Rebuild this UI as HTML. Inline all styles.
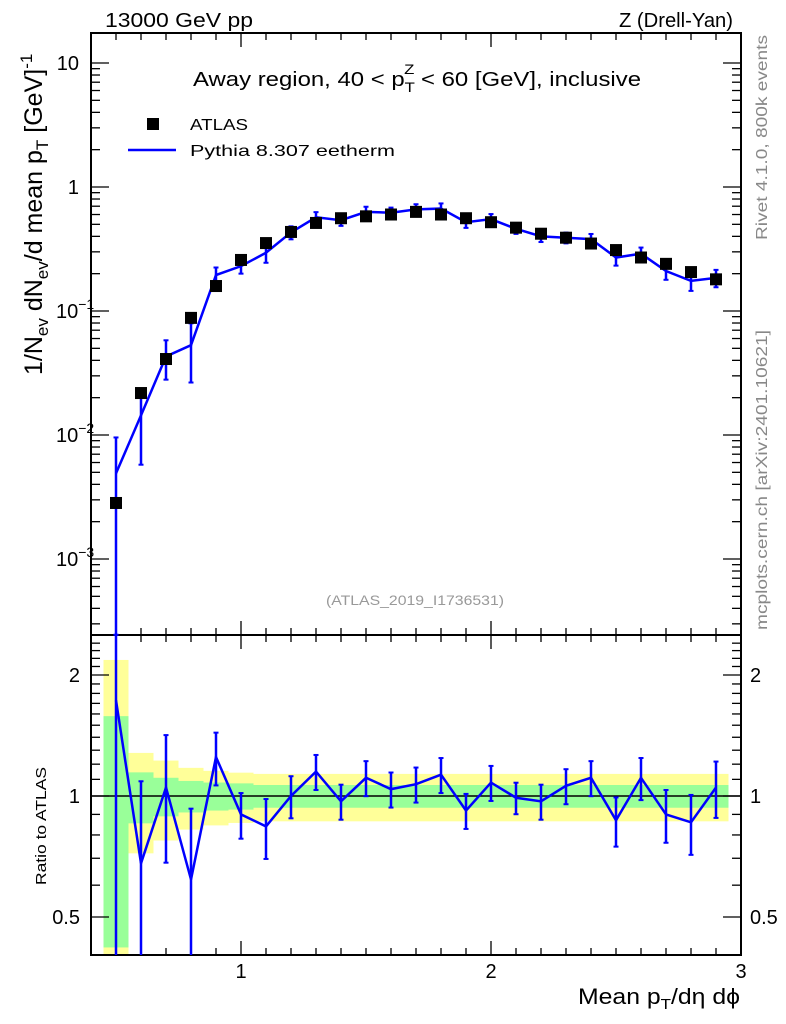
<!DOCTYPE html>
<html><head><meta charset="utf-8"><style>
body{margin:0;background:#fff}
svg{display:block;font-family:"Liberation Sans",sans-serif}
</style></head><body>
<svg id="c" width="786" height="1024" viewBox="0 0 786 1024">
<g id="bands"></g>
<g id="axes"></g>
<g id="marks"></g>
<text x="105" y="27" font-size="20" textLength="148" lengthAdjust="spacingAndGlyphs">13000 GeV pp</text>
<text x="619" y="27" font-size="20" textLength="114" lengthAdjust="spacingAndGlyphs">Z (Drell-Yan)</text>
<text x="193" y="86" font-size="20" textLength="448" lengthAdjust="spacingAndGlyphs">Away region, 40 &lt; p<tspan font-size="14" dy="6">T</tspan><tspan font-size="14" dx="-9" dy="-18">Z</tspan><tspan dy="12"> &lt; 60 [GeV], inclusive</tspan></text>
<rect x="147" y="118" width="12" height="12" fill="#000"/>
<text x="190" y="130" font-size="16" textLength="58" lengthAdjust="spacingAndGlyphs">ATLAS</text>
<line x1="128" y1="150" x2="176" y2="150" stroke="#0000ff" stroke-width="2.5"/>
<text x="190" y="156" font-size="16" textLength="205" lengthAdjust="spacingAndGlyphs">Pythia 8.307 eetherm</text>
<text x="326" y="605" font-size="14" fill="#999" textLength="178" lengthAdjust="spacingAndGlyphs">(ATLAS_2019_I1736531)</text>
<text transform="translate(767,240) rotate(-90)" font-size="16" fill="#888" textLength="205" lengthAdjust="spacingAndGlyphs">Rivet 4.1.0,  800k events</text>
<text transform="translate(767,630) rotate(-90)" font-size="16" fill="#888" textLength="300" lengthAdjust="spacingAndGlyphs">mcplots.cern.ch [arXiv:2401.10621]</text>
<text transform="translate(42,375) rotate(-90)" font-size="25">1/N<tspan font-size="17" dy="6">ev</tspan><tspan dy="-6"> dN</tspan><tspan font-size="17" dy="6">ev</tspan><tspan dy="-6">/d mean p</tspan><tspan font-size="17" dy="6">T</tspan><tspan dy="-6"> [GeV]</tspan><tspan font-size="17" dy="-10">-1</tspan></text>
<text transform="translate(46,885) rotate(-90)" font-size="15" textLength="118" lengthAdjust="spacingAndGlyphs">Ratio to ATLAS</text>
<text x="578" y="1004" font-size="22" textLength="162" lengthAdjust="spacingAndGlyphs">Mean p<tspan font-size="15" dy="5">T</tspan><tspan dy="-5">/dη dϕ</tspan></text>
</svg>
<script>
const xs=[0.5,0.6,0.7,0.8,0.9,1.0,1.1,1.2,1.3,1.4,1.5,1.6,1.7,1.8,1.9,2.0,2.1,2.2,2.3,2.4,2.5,2.6,2.7,2.8,2.9];
const dataVals=[0.00283,0.0218,0.041,0.088,0.159,0.258,0.353,0.434,0.513,0.56,0.58,0.60,0.63,0.60,0.56,0.52,0.47,0.42,0.39,0.35,0.31,0.27,0.24,0.206,0.18];
const mcVals=[0.0049,0.0144,0.043,0.053,0.195,0.23,0.295,0.43,0.57,0.54,0.63,0.62,0.66,0.67,0.52,0.55,0.46,0.40,0.39,0.38,0.27,0.29,0.21,0.175,0.185];
const ratioVals=[1.73,0.68,1.05,0.62,1.25,0.90,0.84,1.0,1.15,0.97,1.11,1.04,1.07,1.13,0.92,1.08,0.99,0.97,1.06,1.11,0.87,1.11,0.90,0.86,1.05];
const mcErrRel=[0.95,0.6,0.35,0.5,0.15,0.13,0.17,0.12,0.1,0.1,0.1,0.1,0.1,0.1,0.1,0.1,0.09,0.1,0.1,0.1,0.14,0.12,0.15,0.17,0.16];
const statRel=[0.58,0.145,0.11,0.09,0.08,0.075,0.065,0.065,0.065,0.065,0.065,0.065,0.065,0.065,0.065,0.065,0.065,0.065,0.065,0.065,0.065,0.065,0.065,0.065,0.065];
const totRel=[1.18,0.28,0.225,0.175,0.155,0.143,0.135,0.135,0.135,0.135,0.135,0.135,0.135,0.135,0.135,0.135,0.135,0.135,0.135,0.135,0.135,0.135,0.135,0.135,0.135];
const ratioTicks=[0.5,1,2];

const NS="http://www.w3.org/2000/svg";
const X0=91,X1=741,T0=33,T1=635,R0=635,R1=955;
const xS=v=>X0+(v-0.4)*250;
const yT=v=>187-Math.log10(v)*124;
const yR=v=>796-Math.log2(v)*121;
function mk(p,tag,at){const e=document.createElementNS(NS,tag);for(const k in at)e.setAttribute(k,at[k]);p.appendChild(e);return e;}
const ax=document.getElementById('axes'),bd=document.getElementById('bands'),mg=document.getElementById('marks');
const clampR=v=>Math.max(R0,Math.min(R1,v)),clampT=v=>Math.max(T0,Math.min(T1,v));
xs.forEach((x,i)=>{
 const a=xS(x-0.05),b=xS(x+0.05);
 const yt=clampR(yR(1+totRel[i])),yb=1-totRel[i]>0?clampR(yR(1-totRel[i])):R1;
 let r=mk(bd,'rect',{x:a,y:yt,width:b-a,height:yb-yt,fill:'#ffff99'});
 
 
 const gt=clampR(yR(1+statRel[i])),gb=clampR(yR(1-statRel[i]));
 r=mk(bd,'rect',{x:a,y:gt,width:b-a,height:gb-gt,fill:'#99ff99'});
 
 
});
[[T0,T1],[R0,R1]].forEach(([a,b])=>mk(ax,'rect',{x:X0,y:a,width:X1-X0,height:b-a,fill:'none',stroke:'#000','stroke-width':2}));
mk(ax,'line',{x1:X0,x2:X1,y1:796,y2:796,stroke:'#000','stroke-width':1.5});
for(let k=5;k<=29;k++){const v=k/10,x=xS(v),maj=k%10==0;
 const L=maj?14:7;
 [[T1,-1],[T0,1],[R1,-1],[R0,1]].forEach(([y,d])=>mk(ax,'line',{x1:x,x2:x,y1:y,y2:y+d*L,stroke:'#000','stroke-width':1.3}));
 if(maj){const t=mk(ax,'text',{x:x,y:978,'font-size':20,'text-anchor':'middle'});t.textContent=String(v);
 
 }
}
{const t=mk(ax,'text',{x:X1,y:978,'font-size':20,'text-anchor':'middle'});t.textContent='3';

}
for(let e=-4;e<=1;e++)for(let m=1;m<10;m++){const v=m*Math.pow(10,e),y=yT(v);if(y<T0||y>T1)continue;
 const L=m==1?18:9;
 mk(ax,'line',{x1:X0,x2:X0+L,y1:y,y2:y,stroke:'#000','stroke-width':1.3});
 mk(ax,'line',{x1:X1,x2:X1-L,y1:y,y2:y,stroke:'#000','stroke-width':1.3});
}
[[1,'10',''],[0,'1',''],[-1,'10','−1'],[-2,'10','−2'],[-3,'10','−3']].forEach(([e,b,s])=>{
 const t=mk(ax,'text',{x:s?56:79,y:yT(Math.pow(10,e))+7,'font-size':20,'text-anchor':s?'start':'end'});
 t.textContent=b;
 if(s){const ts=mk(t,'tspan',{'font-size':14,dy:-9});ts.textContent=s;}
 
 
});
for(let v=0.4;v<=2.5;v+=0.1){const y=yR(v);if(y<R0||y>R1)continue;const maj=[0.5,1,2].some(q=>Math.abs(q-v)<1e-6);
 const L=maj?18:9;
 mk(ax,'line',{x1:X0,x2:X0+L,y1:y,y2:y,stroke:'#000','stroke-width':1.3});
 mk(ax,'line',{x1:X1,x2:X1-L,y1:y,y2:y,stroke:'#000','stroke-width':1.3});
}
ratioTicks.forEach(v=>{[[80,'end'],[750,'start']].forEach(([x,a])=>{
 const t=mk(ax,'text',{x:x,y:yR(v)+7,'font-size':20,'text-anchor':a});t.textContent=String(v);
 
 });});
const blue='#0000ff';
let pts=xs.map((x,i)=>xS(x)+','+yT(mcVals[i])).join(' ');
let pl=mk(mg,'polyline',{points:pts,fill:'none',stroke:blue,'stroke-width':2.5});


xs.forEach((x,i)=>{const cx=xS(x);
 const hi=clampT(yT(mcVals[i]*(1+mcErrRel[i]))),lo=mcErrRel[i]<1?clampT(yT(mcVals[i]*(1-mcErrRel[i]))):T1;
 let l=mk(mg,'line',{x1:cx,x2:cx,y1:hi,y2:lo,stroke:blue,'stroke-width':2.5});
 
 
 [hi,lo].forEach(y=>{if(y>T0&&y<T1)mk(mg,'line',{x1:cx-2.5,x2:cx+2.5,y1:y,y2:y,stroke:blue,'stroke-width':2});});
 const r=mk(mg,'rect',{x:cx-6,y:yT(dataVals[i])-6,width:12,height:12,fill:'#000'});
 
 
});
pts=xs.map((x,i)=>xS(x)+','+clampR(yR(ratioVals[i]))).join(' ');
pl=mk(mg,'polyline',{points:pts,fill:'none',stroke:blue,'stroke-width':2.5});


xs.forEach((x,i)=>{const cx=xS(x);
 const hi=clampR(yR(ratioVals[i]*(1+mcErrRel[i]))),lo=mcErrRel[i]<1?clampR(yR(ratioVals[i]*(1-mcErrRel[i]))):R1;
 const l=mk(mg,'line',{x1:cx,x2:cx,y1:hi,y2:lo,stroke:blue,'stroke-width':2.5});
 
 
 [hi,lo].forEach(y=>{if(y>R0&&y<R1)mk(mg,'line',{x1:cx-2.5,x2:cx+2.5,y1:y,y2:y,stroke:blue,'stroke-width':2});});
});
</script>
</body></html>
